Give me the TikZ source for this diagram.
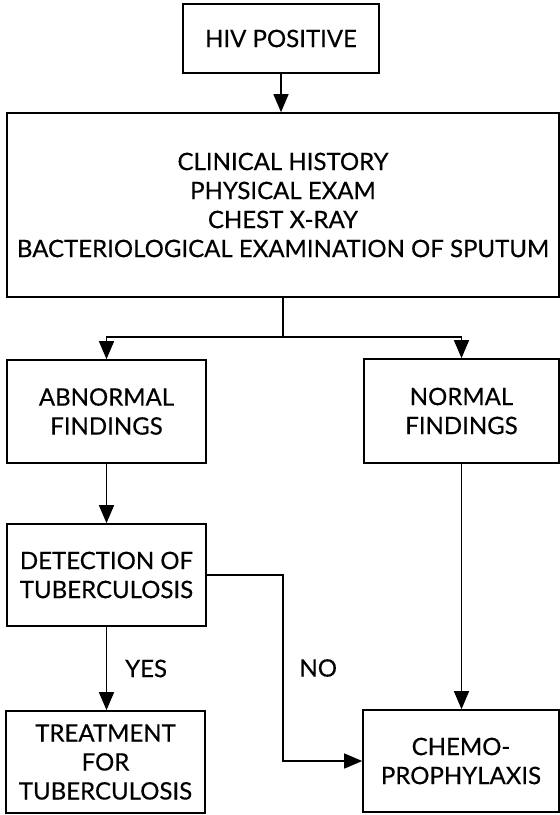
\documentclass[tikz,border=0pt]{standalone}
\usepackage{fontspec}
\setmainfont{Lato}[FakeBold=0.4]
\usetikzlibrary{arrows.meta}
\begin{document}
\begin{tikzpicture}[x=1pt,y=-1pt,
		box/.style={draw, line width=1.6pt, align=center, inner sep=0pt,
			font=\fontsize{24}{29}\selectfont},
		link/.style={line width=1.4pt, -{Triangle[length=18pt,width=15pt]}},
		tag/.style={font=\fontsize{24}{29}\selectfont, inner sep=0pt}]

	% frame
	\useasboundingbox (0,0) rectangle (560,815);

	% boxes
	\node [box, minimum width=196pt, minimum height=69pt] (hiv) at (281,38.5) {HIV POSITIVE};
	\node [box, minimum width=552pt, minimum height=184pt] (exam) at (283,205)
		{CLINICAL HISTORY\\PHYSICAL EXAM\\CHEST X-RAY\\BACTERIOLOGICAL EXAMINATION OF SPUTUM};
	\node [box, minimum width=199pt, minimum height=103pt] (abn) at (106.5,411.5) {ABNORMAL\\FINDINGS};
	\node [box, minimum width=195pt, minimum height=104pt] (norm) at (461.5,411) {NORMAL\\FINDINGS};
	\node [box, minimum width=199pt, minimum height=102pt] (det) at (106.5,575) {DETECTION OF\\TUBERCULOSIS};
	\node [box, minimum width=199pt, minimum height=102pt] (treat) at (105.5,762) {TREATMENT\\FOR\\TUBERCULOSIS};
	\node [box, minimum width=196pt, minimum height=102pt] (chemo) at (461,761) {CHEMO-\\PROPHYLAXIS};

	% arrows
	\draw [link] (hiv.south) -- (hiv.south |- exam.north);
	\draw [link] (exam.south) -- ++(0,39) -| (abn.north);
	\draw [link] (exam.south) -- ++(0,39) -| (norm.north);
	\draw [link] (abn.south) -- (abn.south |- det.north);
	\draw [link] (det.south) -- (det.south |- treat.north)
		node [tag, midway, right=18pt] {YES};
	\draw [link] (det.east) -- ++(76,0) |- (chemo.west)
		node [tag, pos=0.25, right=16pt] {NO};
	\draw [link] (norm.south) -- (norm.south |- chemo.north);

\end{tikzpicture}
\end{document}
